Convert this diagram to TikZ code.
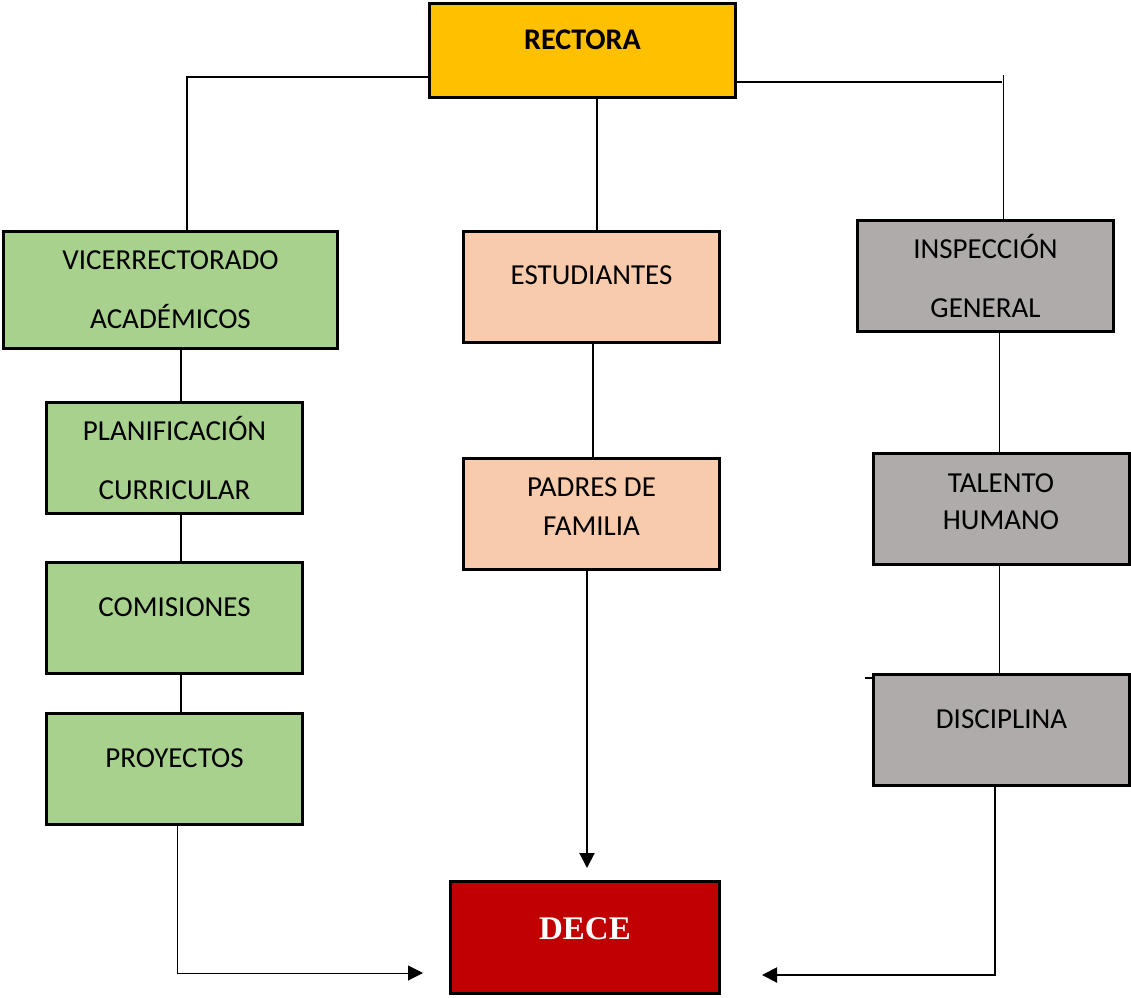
\documentclass[tikz,border=0pt]{standalone}
\usepackage{fontspec}
\setmainfont{Carlito}
\newfontfamily\decefont{Liberation Serif}
\usetikzlibrary{calc,arrows.meta}
\definecolor{rectoraorange}{RGB}{255,192,0}
\definecolor{boxgreen}{RGB}{169,209,142}
\definecolor{boxpeach}{RGB}{248,203,173}
\definecolor{boxgray}{RGB}{175,171,171}
\definecolor{decered}{RGB}{192,0,0}

\begin{document}
\begin{tikzpicture}[x=0.5pt,y=-0.5pt,
  box/.style={draw, line width=1.5pt, minimum width=128pt, minimum height=55.5pt,
    inner sep=0pt, align=center, font=\fontsize{14.5}{17.5}\selectfont},
  oneline/.style={text height=8pt, text depth=10pt},
  conn/.style={line width=1pt},
  thinconn/.style={line width=0.5pt},
  tip/.style={-{Triangle[length=7.5pt,width=7.5pt]}}]
\useasboundingbox (0,0) rectangle (1131,997);

% Top
\node[box, fill=rectoraorange, minimum width=153pt, minimum height=47pt,
  font=\fontsize{15}{18}\selectfont\bfseries, text height=8pt, text depth=9pt] (rect) at (582.5,50.5) {RECTORA};

% Left column
\node[box, fill=boxgreen, minimum width=167pt, minimum height=58.5pt] (vice) at (170.5,290) {VICERRECTORADO\\[12pt]ACADÉMICOS};
\node[box, fill=boxgreen] (plan) at (174.5,458) {PLANIFICACIÓN\\[12pt]CURRICULAR};
\node[box, fill=boxgreen, oneline] (comi) at (174.5,618) {COMISIONES};
\node[box, fill=boxgreen, oneline] (proy) at (174.5,769) {PROYECTOS};

% Middle column
\node[box, fill=boxpeach, oneline] (est) at (591.5,286.5) {ESTUDIANTES};
\node[box, fill=boxpeach] (padres) at (591.5,514) {PADRES DE\\[2pt]FAMILIA\rule[-7pt]{0pt}{7pt}};

% Right column
\node[box, fill=boxgray] (insp) at (985.5,275.5) {INSPECCIÓN\\[12pt]GENERAL};
\node[box, fill=boxgray] (tal) at (1001,509) {TALENTO\\[1pt]HUMANO\rule[-7pt]{0pt}{7pt}};
\node[box, fill=boxgray, oneline] (disc) at (1001.5,730) {DISCIPLINA};

% Bottom
\node[box, fill=decered, minimum width=134.5pt, minimum height=56pt, text=white,
  font=\decefont\fontsize{16.5}{20}\selectfont\bfseries, text height=8pt, text depth=6.5pt] (dece) at (585,937.5) {DECE};

% Branch points
\coordinate (topleft) at (187,77);
\coordinate (topright) at (1002,82);
\coordinate (toprightend) at (1003,75);
\coordinate (midx) at (597,0);
\coordinate (leftx) at (181,0);
\coordinate (estx) at (593,0);
\coordinate (padx) at (587,0);
\coordinate (rightx) at (999,0);
\coordinate (proycorner) at (177,973);
\coordinate (disccorner) at (995,975);

% Lines from the rectora
\draw[conn] (rect.west |- topleft) -- (topleft) -- (vice.north -| topleft);
\draw[conn] (rect.east |- topright) -- (topright);
\draw[thinconn] (toprightend) -- (insp.north -| toprightend);
\draw[conn] (rect.south -| midx) -- (est.north -| midx);

% Left column links
\draw[conn] (vice.south -| leftx) -- (plan.north -| leftx);
\draw[conn] (plan.south -| leftx) -- (comi.north -| leftx);
\draw[conn] (comi.south -| leftx) -- (proy.north -| leftx);

% Middle column links
\draw[conn] (est.south -| estx) -- (padres.north -| estx);
\draw[conn, tip] (padres.south -| padx) -- ([yshift=6pt]dece.north -| padx);

% Right column links
\draw[thinconn] (insp.south -| rightx) -- (tal.north -| rightx);
\draw[thinconn] (tal.south -| rightx) -- (disc.north -| rightx);
\draw[conn] ([yshift=-2.5pt]disc.north west) -- ++(-7,0);

% Arrows to the DECE
\draw[thinconn, tip] (proy.south -| proycorner) -- (proycorner) -- ([xshift=-13pt]dece.west |- proycorner);
\draw[conn, tip] (disc.south -| disccorner) -- (disccorner) -- ([xshift=20.5pt]dece.east |- disccorner);
\end{tikzpicture}
\end{document}
